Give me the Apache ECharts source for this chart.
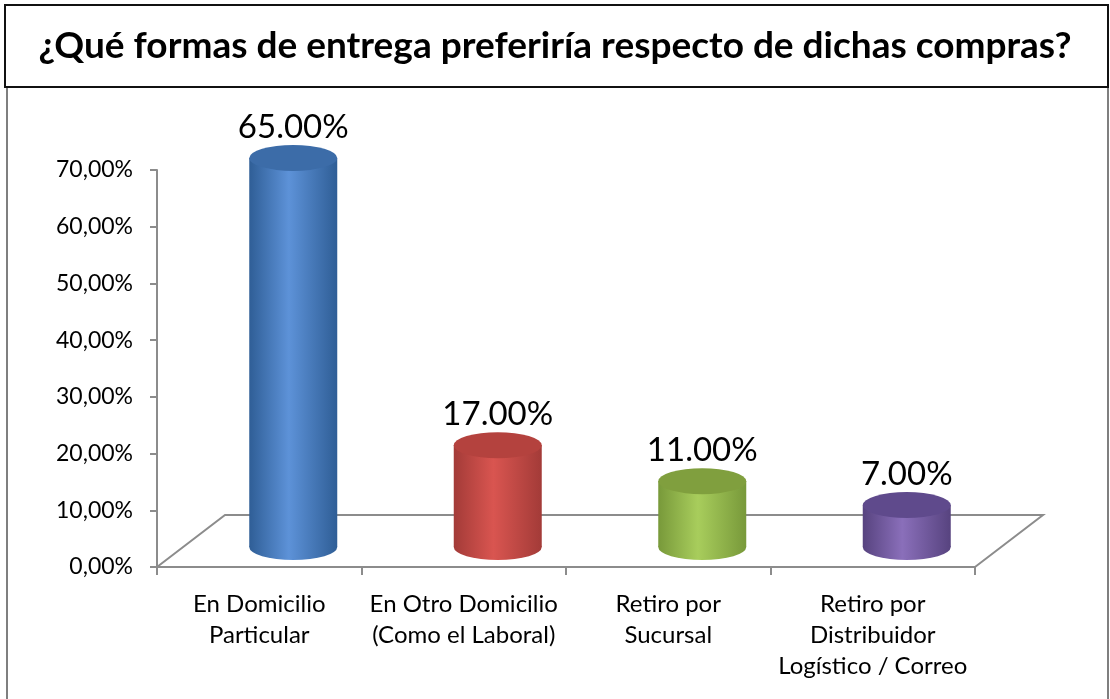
<!DOCTYPE html>
<html>
<head>
<meta charset="utf-8">
<script src="https://cdn.jsdelivr.net/npm/echarts@6/dist/echarts.min.js"></script>
<style>
  html, body { margin: 0; padding: 0; background: #fff; }
  #chart { width: 1110px; height: 699px; }
</style>
</head>
<body>
<div id="chart"></div>
<script>
// categorias y valores (%)
const categories = [
  'En Domicilio\nParticular',
  'En Otro Domicilio\n(Como el Laboral)',
  'Retiro por\nSucursal',
  'Retiro por\nDistribuidor\nLogístico / Correo'
]
const values = [65, 17, 11, 7]
const yTicks = [0, 10, 20, 30, 40, 50, 60, 70]

// colores de cada cilindro: borde, centro, tapa
const bodyEdge = ['#2f5e96', '#a33b38', '#78993a', '#57437f']
const bodyMid = ['#5d92d8', '#d95550', '#a8cd5c', '#8a6fba']
const capColor = ['#3c6ca8', '#b4423e', '#809f3e', '#5f4a8c']

const font = 'Lato, "Open Sans", sans-serif'
const chart = echarts.init(document.getElementById('chart'))

function grad(i) {
  return new echarts.graphic.LinearGradient(0, 0, 1, 0, [
    { offset: 0, color: bodyEdge[i] },
    { offset: 0.45, color: bodyMid[i] },
    { offset: 1, color: bodyEdge[i] }
  ])
}

chart.setOption({
  animation: false,
  title: {
    text: '¿Qué formas de entrega preferiría respecto de dichas compras?',
    left: 'center',
    top: 23,
    textStyle: { fontFamily: font, fontSize: 37, fontWeight: 'bold', color: '#000' }
  },
  graphic: [
    // marco exterior
    { type: 'rect', shape: { x: 7, y: 87, width: 1101, height: 620 }, style: { fill: 'none', stroke: '#7f7f7f', lineWidth: 2 }, z: 0 },
    // caja del titulo
    { type: 'rect', shape: { x: 5, y: 5, width: 1103, height: 82 }, style: { fill: '#fff', stroke: '#111', lineWidth: 2 }, z: 1 },
    // piso 3D
    { type: 'polyline', shape: { points: [[157, 567], [225, 515], [1043, 515], [975, 567]] }, style: { fill: 'none', stroke: '#8c8c8c', lineWidth: 2 }, z: 1 }
  ],
  grid: [
    { left: 157, right: 135, top: 170, bottom: 132 },
    { left: 191, right: 101, top: 128, bottom: 152 }
  ],
  xAxis: [
    {
      type: 'category',
      gridIndex: 0,
      data: categories,
      axisLine: { lineStyle: { color: '#8c8c8c', width: 2 } },
      axisTick: { show: true, length: 8, lineStyle: { color: '#8c8c8c', width: 2 } },
      axisLabel: { fontFamily: font, fontSize: 24, color: '#000', margin: 22, lineHeight: 31, interval: 0 }
    },
    {
      type: 'category',
      gridIndex: 1,
      data: categories,
      show: false
    }
  ],
  yAxis: [
    {
      type: 'value',
      gridIndex: 0,
      min: 0,
      max: 70,
      interval: 10,
      data: yTicks,
      axisLine: { show: true, lineStyle: { color: '#8c8c8c', width: 2 } },
      axisTick: { show: true, length: 7, lineStyle: { color: '#8c8c8c', width: 2 } },
      splitLine: { show: false },
      axisLabel: {
        fontFamily: font, fontSize: 23, color: '#000', margin: 24,
        formatter: v => v.toFixed(2).replace('.', ',') + '%'
      }
    },
    { type: 'value', gridIndex: 1, min: 0, max: 70, show: false }
  ],
  series: [
    {
      // fondo del cilindro (elipse inferior)
      type: 'pictorialBar',
      xAxisIndex: 1, yAxisIndex: 1,
      symbol: 'circle',
      symbolSize: [88, 26],
      symbolOffset: [0, '50%'],
      z: 2,
      data: values.map((v, i) => ({ value: v, itemStyle: { color: grad(i) } }))
    },
    {
      type: 'bar',
      xAxisIndex: 1, yAxisIndex: 1,
      barWidth: 88,
      z: 3,
      data: values.map((v, i) => ({ value: v, itemStyle: { color: grad(i) } })),
      label: {
        show: true,
        position: 'top',
        distance: 14,
        fontFamily: font,
        fontSize: 33,
        color: '#000',
        formatter: p => p.value.toFixed(2) + '%'
      }
    },
    {
      // tapa superior
      type: 'pictorialBar',
      xAxisIndex: 1, yAxisIndex: 1,
      symbol: 'circle',
      symbolSize: [88, 26],
      symbolPosition: 'end',
      symbolOffset: [0, '-50%'],
      z: 4,
      data: values.map((v, i) => ({ value: v, itemStyle: { color: capColor[i] } }))
    }
  ]
})
</script>
</body>
</html>
